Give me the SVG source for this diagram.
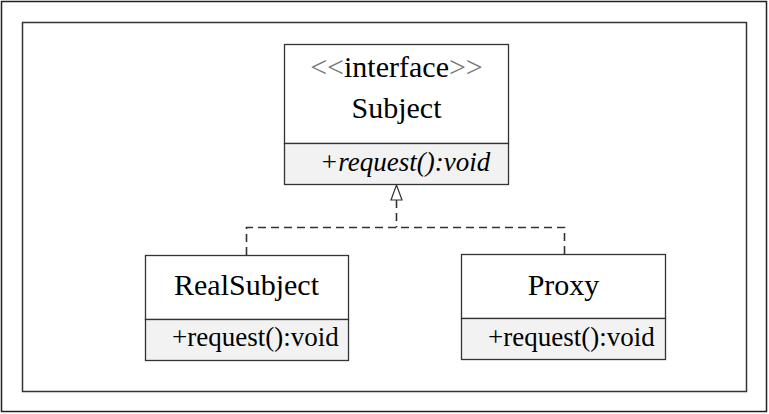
<svg xmlns="http://www.w3.org/2000/svg" width="769" height="414" viewBox="0 0 769 414">
<style>
.box{fill:#ffffff;stroke:#333333;stroke-width:1.3}
.comp{fill:#f2f2f2;stroke:#333333;stroke-width:1.3}
text{font-family:'Liberation Serif','Times New Roman',serif;fill:#000}
.name{font-size:30px;text-anchor:middle}
.meth{font-size:27px}
.conn{fill:none;stroke:#333333;stroke-width:1.6;stroke-dasharray:8,5}
</style>
<rect x="1.5" y="1.5" width="765" height="410" fill="#ffffff" stroke="#222222" stroke-width="1.5"/>
<rect x="22.5" y="22.5" width="724" height="369" fill="#ffffff" stroke="#333333" stroke-width="1.5"/>
<g id="connectors">
<path class="conn" d="M396.5 200 V227.5 M246.5 255 V227.5 H564.5 V254"/>
<polygon points="396.5,185 391,200 402,200" fill="#ffffff" stroke="#333333" stroke-width="1.2"/>
</g>
<g id="Subject">
<rect class="box" x="284.5" y="44.5" width="224" height="99"/>
<rect class="comp" x="284.5" y="143.5" width="224" height="41"/>
<text class="name" x="396.5" y="77"><tspan fill="#777777">&lt;&lt;</tspan>interface<tspan fill="#777777">&gt;&gt;</tspan></text>
<text class="name" x="396.5" y="118">Subject</text>
<text class="meth" x="320" y="171" font-style="italic">+request():void</text>
</g>
<g id="RealSubject">
<rect class="box" x="145.5" y="255.5" width="203" height="64"/>
<rect class="comp" x="145.5" y="319.5" width="203" height="41"/>
<text class="name" x="246.5" y="295">RealSubject</text>
<text class="meth" x="172" y="346">+request():void</text>
</g>
<g id="Proxy">
<rect class="box" x="461.5" y="254.5" width="204" height="64"/>
<rect class="comp" x="461.5" y="318.5" width="204" height="41"/>
<text class="name" x="563.5" y="295">Proxy</text>
<text class="meth" x="488" y="346">+request():void</text>
</g>
</svg>
